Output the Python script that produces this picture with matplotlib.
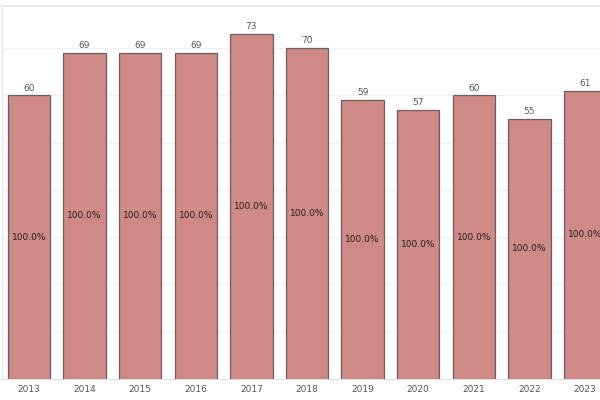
import matplotlib
matplotlib.use("Agg")
import matplotlib.pyplot as plt

# ── Data ────────────────────────────────────────────────────────────────
years = ["2013", "2014", "2015", "2016", "2017", "2018",
         "2019", "2020", "2021", "2022", "2023"]
counts = [60, 69, 69, 69, 73, 70, 59, 57, 60, 55, 61]
share_labels = ["100.0%"] * len(years)

BAR_COLOR = "#d08a86"
EDGE_COLOR = "#6a5f5f"
TEXT_COLOR = "#555555"

fig = plt.figure(figsize=(6, 4), dpi=100, facecolor="white")
ax = fig.add_axes([2 / 600, 21 / 400, 1 - 2 / 600, 373 / 400])

x = range(len(years))
bars = ax.bar(x, counts, width=0.76, color=BAR_COLOR,
              edgecolor=EDGE_COLOR, linewidth=0.9, zorder=2)

# value on top, share in the middle of each bar
for xi, v, s in zip(x, counts, share_labels):
    ax.text(xi, v + 0.6, str(v), ha="center", va="bottom",
            fontsize=6.5, color=TEXT_COLOR)
    ax.text(xi, v / 2, s, ha="center", va="center",
            fontsize=6.5, color="#222222")

ax.set_xlim(-0.486, 10.27)
ax.set_ylim(0, 78.9)
ax.set_xticks(list(x))
ax.set_xticklabels(years, fontsize=6.5, color=TEXT_COLOR)
ax.tick_params(axis="x", length=0, pad=4)
ax.set_yticks(range(10, 80, 10))
ax.set_yticklabels([])
ax.tick_params(axis="y", length=0)
ax.grid(axis="y", color="#f0f0f0", linewidth=0.8, zorder=0)

for side in ["right"]:
    ax.spines[side].set_visible(False)
ax.spines["top"].set_color("#e2e2e2")
ax.spines["top"].set_linewidth(1.2)
ax.spines["left"].set_color("#e6e6e6")
ax.spines["bottom"].set_color("#dddddd")
ax.spines["bottom"].set_linewidth(0.8)

fig.savefig("out.png", dpi=100, facecolor="white")
